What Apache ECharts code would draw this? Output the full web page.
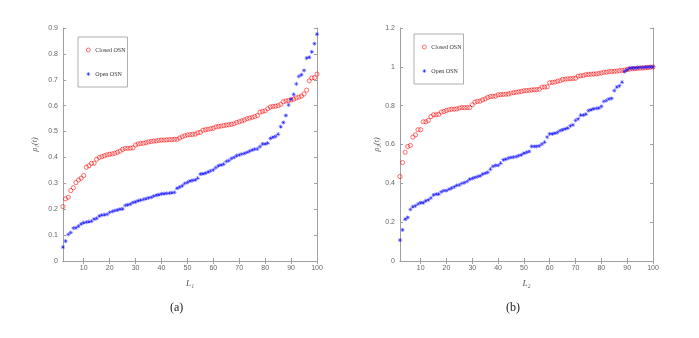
<!DOCTYPE html>
<html>
<head>
<meta charset="utf-8">
<script src="https://cdn.jsdelivr.net/npm/echarts@6/dist/echarts.min.js"></script>
<style>
  html, body { margin: 0; padding: 0; background: #fff; }
  #chart { width: 699px; height: 338px; }
</style>
</head>
<body>
<div id="chart"></div>
<script>
// x positions L = 2..100
var xStart = 2, xEnd = 100;
var xTicks = [10, 20, 30, 40, 50, 60, 70, 80, 90, 100];

// (a) rho_1(t)
var closedA = [
  0.21, 0.24, 0.246, 0.272, 0.283, 0.303, 0.313, 0.32, 0.33,
  0.362, 0.368, 0.377, 0.378, 0.393, 0.40, 0.403, 0.407, 0.41, 0.412,
  0.414, 0.416, 0.42, 0.424, 0.431, 0.435, 0.435, 0.436, 0.437, 0.448,
  0.452, 0.454, 0.455, 0.457, 0.46, 0.462, 0.463, 0.464, 0.466, 0.467,
  0.467, 0.468, 0.469, 0.469, 0.47, 0.47, 0.475, 0.48, 0.484, 0.487,
  0.488, 0.489, 0.49, 0.495, 0.497, 0.505, 0.507, 0.509, 0.511, 0.513,
  0.518, 0.52, 0.521, 0.523, 0.525, 0.526, 0.528, 0.53, 0.535, 0.538,
  0.541, 0.545, 0.55, 0.552, 0.555, 0.558, 0.562, 0.575, 0.578, 0.58,
  0.588, 0.595, 0.597, 0.598, 0.6, 0.605, 0.615, 0.618, 0.62, 0.622,
  0.625, 0.63, 0.633, 0.637, 0.645, 0.66, 0.696, 0.707, 0.708, 0.722
];
var openA = [
  0.054, 0.077, 0.103, 0.11, 0.127, 0.128, 0.135, 0.143, 0.148,
  0.15, 0.152, 0.154, 0.162, 0.165, 0.174, 0.177, 0.179, 0.18, 0.188,
  0.192, 0.195, 0.197, 0.2, 0.201, 0.215, 0.217, 0.22, 0.226, 0.228,
  0.233, 0.235, 0.238, 0.241, 0.244, 0.246, 0.251, 0.254, 0.256, 0.259,
  0.26, 0.261, 0.262, 0.264, 0.265, 0.281, 0.285, 0.291, 0.3, 0.304,
  0.309, 0.311, 0.313, 0.32, 0.336, 0.337, 0.339, 0.344, 0.348, 0.352,
  0.361, 0.368, 0.371, 0.374, 0.385, 0.388, 0.396, 0.4, 0.407, 0.41,
  0.413, 0.416, 0.42, 0.424, 0.429, 0.432, 0.433, 0.442, 0.452, 0.452,
  0.455, 0.474, 0.478, 0.481, 0.49, 0.519, 0.535, 0.562, 0.603, 0.625,
  0.644, 0.684, 0.713, 0.72, 0.736, 0.784, 0.787, 0.808, 0.84, 0.876
];

// (b) rho_2(t)
var closedB = [
  0.435, 0.507, 0.56, 0.59, 0.595, 0.638, 0.65, 0.676, 0.676,
  0.717, 0.717, 0.724, 0.744, 0.753, 0.753, 0.755, 0.767, 0.77, 0.775,
  0.779, 0.782, 0.782, 0.783, 0.788, 0.79, 0.79, 0.79, 0.79, 0.805,
  0.818, 0.822, 0.823, 0.83, 0.835, 0.842, 0.847, 0.848, 0.849, 0.856,
  0.857, 0.858, 0.859, 0.86, 0.865, 0.867, 0.869, 0.871, 0.873, 0.877,
  0.878, 0.879, 0.881, 0.882, 0.883, 0.885, 0.895, 0.896, 0.897, 0.918,
  0.92, 0.921, 0.926, 0.928, 0.935, 0.937, 0.938, 0.939, 0.94, 0.941,
  0.952, 0.954, 0.955, 0.96, 0.961, 0.962, 0.963, 0.964, 0.966, 0.968,
  0.972, 0.973, 0.975, 0.976, 0.977, 0.978, 0.98, 0.982, 0.983, 0.987,
  0.988, 0.99, 0.991, 0.992, 0.993, 0.994, 0.995, 0.996, 0.998, 0.999
];
var openB = [
  0.108, 0.16, 0.215, 0.224, 0.266, 0.28, 0.284, 0.294, 0.3,
  0.3, 0.31, 0.315, 0.325, 0.34, 0.344, 0.344, 0.356, 0.363, 0.363,
  0.37, 0.375, 0.382, 0.39, 0.392, 0.4, 0.404, 0.41, 0.421, 0.426,
  0.43, 0.435, 0.438, 0.447, 0.452, 0.456, 0.473, 0.487, 0.492, 0.492,
  0.504, 0.521, 0.524, 0.53, 0.533, 0.535, 0.538, 0.543, 0.547, 0.555,
  0.56, 0.564, 0.59, 0.59, 0.59, 0.593, 0.602, 0.612, 0.638, 0.655,
  0.655, 0.658, 0.662, 0.672, 0.676, 0.681, 0.684, 0.696, 0.701, 0.724,
  0.732, 0.751, 0.751, 0.756, 0.775, 0.779, 0.784, 0.786, 0.787, 0.796,
  0.822, 0.827, 0.835, 0.837, 0.878, 0.896, 0.902, 0.921, 0.976, 0.985,
  0.993, 0.994, 0.995, 0.996, 0.997, 0.997, 0.998, 0.999, 1.0, 1.0
];

function pairs(vals) {
  var out = [];
  for (var i = 0; i < vals.length; i++) out.push([xStart + i, vals[i]]);
  return out;
}

// asterisk marker (matlab '*')
var starPath = 'path://M-0.6,-5L0.6,-5L0.6,5L-0.6,5Z' +
  'M-5,-0.6L5,-0.6L5,0.6L-5,0.6Z' +
  'M-3.9,-3.1L-3.1,-3.9L3.9,3.1L3.1,3.9Z' +
  'M3.1,-3.9L3.9,-3.1L-3.1,3.9L-3.9,3.1Z';

var axisCol = '#a0a0a0';
var labelCol = '#666';
var font = 'Liberation Sans';

function xAxes(gi) {
  return [
    {
      gridIndex: gi, type: 'value', min: xStart, max: xEnd,
      name: gi === 0 ? 'L\u2081' : 'L\u2082',
      nameLocation: 'middle', nameGap: 18,
      nameTextStyle: { color: '#555', fontSize: 9, fontStyle: 'italic', fontFamily: 'Liberation Serif' },
      axisLine: { lineStyle: { color: axisCol, width: 1 } },
      axisTick: { inside: true, length: 3, customValues: xTicks, lineStyle: { color: axisCol } },
      axisLabel: { customValues: xTicks, color: labelCol, fontSize: 7, fontFamily: font, margin: 4 },
      splitLine: { show: false }
    },
    {
      gridIndex: gi, type: 'value', min: xStart, max: xEnd, position: 'top',
      axisLine: { lineStyle: { color: axisCol, width: 1 } },
      axisTick: { inside: true, length: 3, customValues: xTicks, lineStyle: { color: axisCol } },
      axisLabel: { show: false },
      splitLine: { show: false }
    }
  ];
}

function yAxes(gi, max, step) {
  return [
    {
      gridIndex: gi, type: 'value', min: 0, max: max, interval: step,
      name: gi === 0 ? '\u03c1\u2081(t)' : '\u03c1\u2082(t)',
      nameLocation: 'middle', nameGap: gi === 0 ? 24 : 16, nameRotate: 90,
      nameTextStyle: { color: '#555', fontSize: 8, fontStyle: 'italic', fontFamily: 'Liberation Serif' },
      axisLine: { show: true, lineStyle: { color: axisCol, width: 1 } },
      axisTick: { show: true, inside: true, length: 3, lineStyle: { color: axisCol } },
      axisLabel: { color: labelCol, fontSize: 7, fontFamily: font, margin: 5 },
      splitLine: { show: false }
    },
    {
      gridIndex: gi, type: 'value', min: 0, max: max, interval: step, position: 'right',
      axisLine: { show: true, lineStyle: { color: axisCol, width: 1 } },
      axisTick: { show: true, inside: true, length: 3, lineStyle: { color: axisCol } },
      axisLabel: { show: false },
      splitLine: { show: false }
    }
  ];
}

function legendAt(left, top) {
  return {
    left: left, top: top, orient: 'vertical',
    data: [
      { name: 'Closed OSN', itemStyle: { borderWidth: 0.7 } },
      { name: 'Open OSN' }
    ],
    itemWidth: 4, itemHeight: 4, itemGap: 18,
    padding: [10, 2, 10, 8],
    borderColor: '#999', borderWidth: 0.8,
    textStyle: { fontSize: 6, fontFamily: 'Liberation Serif', color: '#333' },
    selectedMode: false
  };
}

var circleStyle = { color: 'rgba(255,255,255,0)', borderColor: '#ff0000', borderWidth: 0.7 };
var starStyle = { color: '#0000ff' };

var chart = echarts.init(document.getElementById('chart'), null, { renderer: 'canvas' });
chart.setOption({
  animation: false,
  backgroundColor: '#fff',
  grid: [
    { left: 63, top: 28, width: 254, height: 233 },
    { left: 400, top: 28, width: 253, height: 233 }
  ],
  xAxis: xAxes(0).concat(xAxes(1)),
  yAxis: yAxes(0, 0.9, 0.1).concat(yAxes(1, 1.2, 0.2)),
  legend: [legendAt(78, 37), legendAt(414, 34)],
  series: [
    { name: 'Closed OSN', type: 'scatter', xAxisIndex: 0, yAxisIndex: 0, symbol: 'circle', symbolSize: 4.2, itemStyle: circleStyle, data: pairs(closedA) },
    { name: 'Open OSN', type: 'scatter', xAxisIndex: 0, yAxisIndex: 0, symbol: starPath, symbolSize: 4.2, itemStyle: starStyle, data: pairs(openA) },
    { name: 'Closed OSN', type: 'scatter', xAxisIndex: 2, yAxisIndex: 2, symbol: 'circle', symbolSize: 4.2, itemStyle: circleStyle, data: pairs(closedB) },
    { name: 'Open OSN', type: 'scatter', xAxisIndex: 2, yAxisIndex: 2, symbol: starPath, symbolSize: 4.2, itemStyle: starStyle, data: pairs(openB) }
  ],
  graphic: [
    { type: 'text', left: 170, top: 302, style: { text: '(a)', font: '12px "Liberation Serif"', fill: '#222' } },
    { type: 'text', left: 506, top: 302, style: { text: '(b)', font: '12px "Liberation Serif"', fill: '#222' } }
  ]
});
</script>
</body>
</html>
